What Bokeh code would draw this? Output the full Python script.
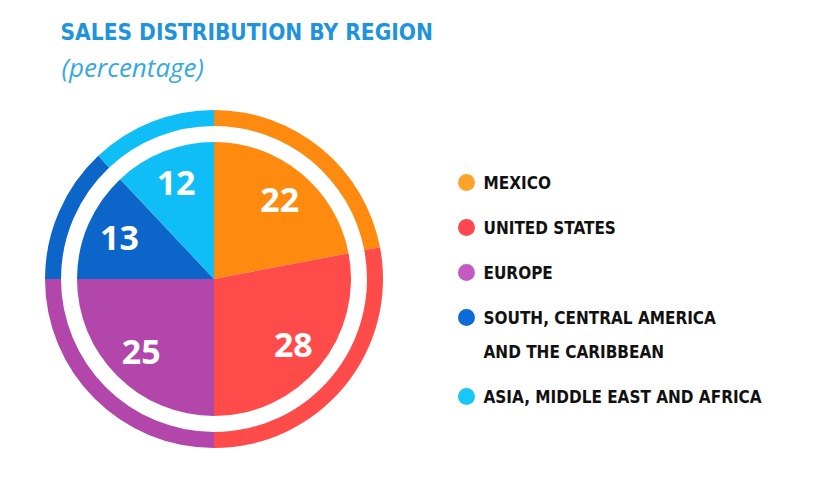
import math
from bokeh.plotting import figure
from bokeh.models import ColumnDataSource, Range1d, Label
from bokeh.core.properties import value
from bokeh.embed import file_html
from bokeh.resources import INLINE

# ---- data ----
regions = ["MEXICO", "UNITED STATES", "EUROPE",
           "SOUTH, CENTRAL AMERICA\nAND THE CARIBBEAN",
           "ASIA, MIDDLE EAST AND AFRICA"]
shares = [22, 28, 25, 13, 12]
slice_colors = ["#FF8A10", "#FF4B4A", "#B346AA", "#0C65C9", "#0FBEF6"]
dot_colors = ["#FFA42A", "#FF4750", "#C25AC2", "#0D6BD8", "#18C6F7"]
title = "SALES DISTRIBUTION BY REGION"
subtitle = "(percentage)"

W, H = 819, 502
p = figure(width=W, height=H, x_range=Range1d(0, W), y_range=Range1d(0, H),
           output_backend="svg", toolbar_location=None, min_border=0)
p.axis.visible = False
p.grid.visible = False
p.outline_line_color = None
p.background_fill_color = "white"
p.border_fill_color = "white"

cx, cy = 213.5, H - 278.5
r_pie, r_ring_in, r_ring_out = 137, 153, 169

total = sum(shares)
starts, ends, mids = [], [], []
acc = 0.0
for s in shares:
    a0 = math.pi / 2 - 2 * math.pi * (acc + s) / total
    a1 = math.pi / 2 - 2 * math.pi * acc / total
    starts.append(a0)
    ends.append(a1)
    mids.append((a0 + a1) / 2)
    acc += s

src = ColumnDataSource(dict(start=starts, end=ends, color=slice_colors,
                            label=[str(v) for v in shares],
                            lx=[cx + 103 * math.cos(m) for m in mids],
                            ly=[cy + 103 * math.sin(m) for m in mids]))

p.annular_wedge(x=cx, y=cy, inner_radius=r_ring_in, outer_radius=r_ring_out,
                start_angle="start", end_angle="end", color="color",
                line_color=None, source=src)
p.wedge(x=cx, y=cy, radius=r_pie, start_angle="start", end_angle="end",
        color="color", line_color=None, source=src)
p.text(x="lx", y="ly", text="label", source=src, text_color="white",
       text_font=value("Open Sans"), text_font_style="bold",
       text_font_size="34px", text_align="center", text_baseline="middle")

# legend
lx_dot, lx_txt = 466, 483
ys_dot, ys_txt, txts = [], [], []
y = 182
for name in regions:
    lines = name.split("\n")
    ys_dot.append(H - y)
    for ln in lines:
        ys_txt.append(H - y)
        txts.append(ln)
        y += 34
    y += 11
p.scatter(x=[lx_dot] * len(regions), y=ys_dot, size=17, color=dot_colors,
          line_color=None)
p.text(x=[lx_txt] * len(txts), y=ys_txt, text=txts, text_color="#111111",
       text_font=value("DejaVu Sans Condensed"), text_font_style="bold",
       text_font_size="17px", text_baseline="middle")

p.add_layout(Label(x=60, y=H - 31, text=title, text_color="#1F93DB",
                   text_font="DejaVu Sans Condensed", text_font_style="bold",
                   text_font_size="22.5px", text_baseline="middle"))
p.add_layout(Label(x=61, y=H - 66, text=subtitle, text_color="#36A9E1",
                   text_font="Open Sans", text_font_style="italic",
                   text_font_size="26px", text_baseline="middle"))

open("out.html", "w").write(file_html(p, INLINE))
